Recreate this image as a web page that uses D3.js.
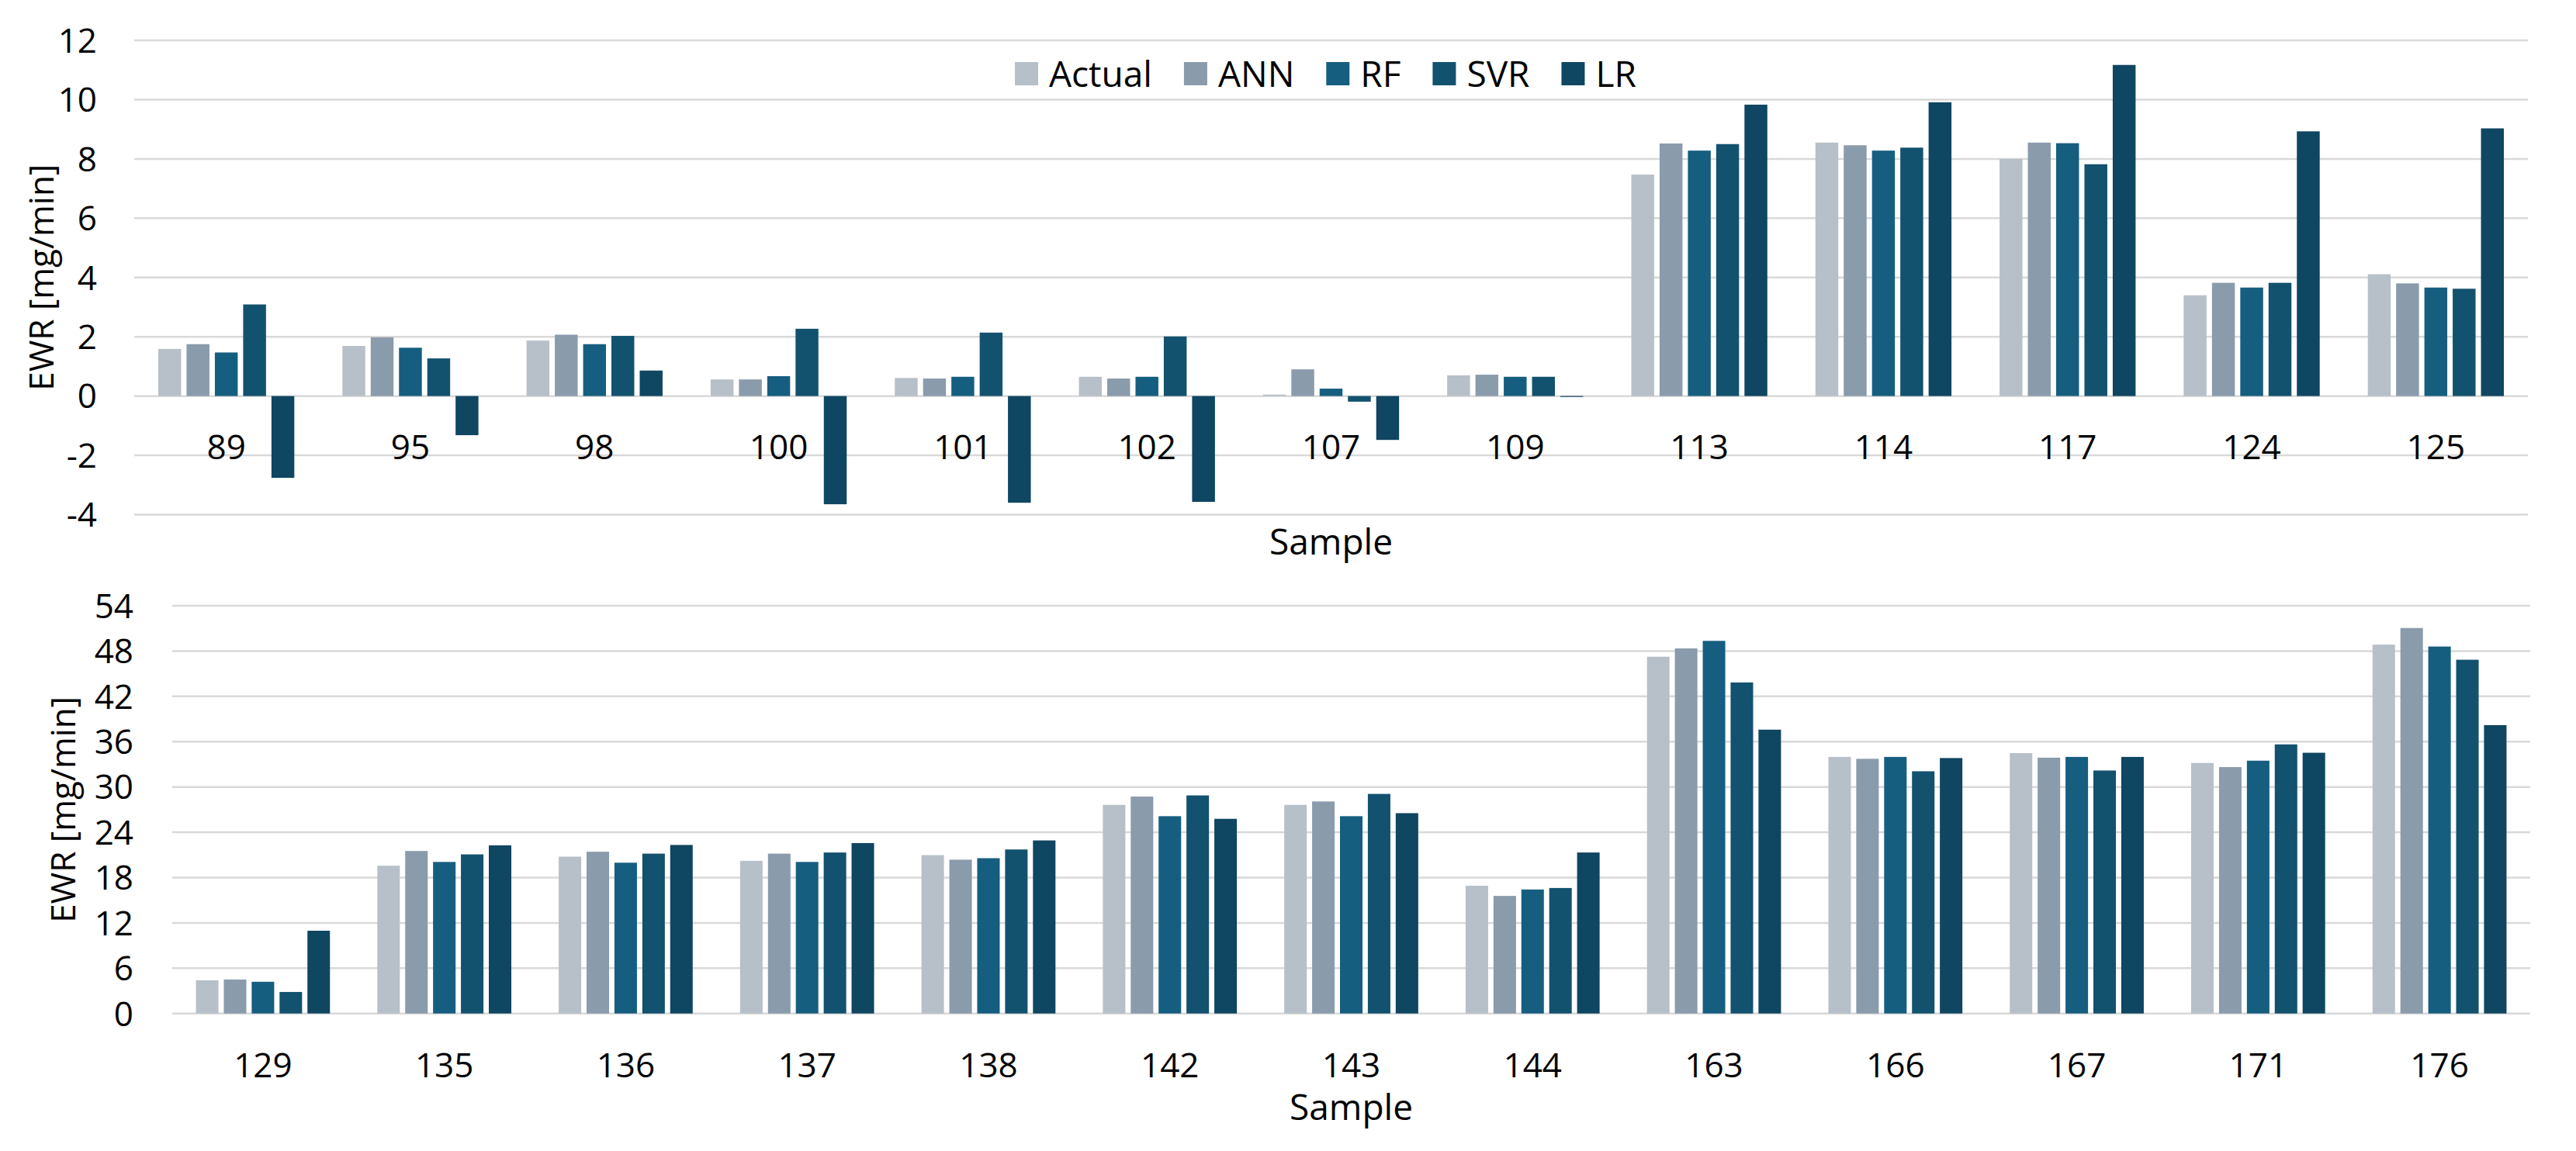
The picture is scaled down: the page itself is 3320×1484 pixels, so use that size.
<!DOCTYPE html>
<html><head><meta charset="utf-8">
<script src="https://cdn.jsdelivr.net/npm/d3@7"></script>
<style>body{margin:0;background:#fff}svg{display:block}text{font-family:"Open Sans",sans-serif;fill:#000}</style>
</head><body>
<svg id="c" width="3320" height="1484"></svg>
<script>
const series = ["Actual","ANN","RF","SVR","LR"];
const colors = ["#b7c0c8","#8a9bab","#165e80","#12526e","#0f4661"];

const topSamples = ["89","95","98","100","101","102","107","109","113","114","117","124","125"];
const topActual = [1.59,1.69,1.87,0.56,0.61,0.65,0.05,0.70,7.47,8.55,8.00,3.40,4.11];
const topANN    = [1.75,1.98,2.07,0.56,0.59,0.59,0.90,0.72,8.52,8.46,8.55,3.82,3.80];
const topRF     = [1.47,1.63,1.75,0.67,0.65,0.65,0.25,0.65,8.28,8.28,8.53,3.66,3.66];
const topSVR    = [3.09,1.27,2.03,2.27,2.14,2.01,-0.19,0.65,8.50,8.38,7.82,3.82,3.62];
const topLR     = [-2.76,-1.32,0.86,-3.65,-3.60,-3.57,-1.48,-0.03,9.83,9.91,11.17,8.93,9.03];
const topTicks  = [-4,-2,0,2,4,6,8,10,12];

const botSamples = ["129","135","136","137","138","142","143","144","163","166","167","171","176"];
const botActual = [4.40,19.57,20.77,20.22,20.97,27.63,27.63,16.92,47.25,33.98,34.48,33.18,48.85];
const botANN    = [4.50,21.52,21.42,21.17,20.37,28.73,28.08,15.57,48.35,33.73,33.88,32.63,51.05];
const botRF     = [4.20,20.07,19.97,20.07,20.57,26.13,26.13,16.42,49.35,33.98,33.98,33.48,48.60];
const botSVR    = [2.85,21.07,21.17,21.32,21.72,28.88,29.08,16.62,43.84,32.08,32.18,35.64,46.85];
const botLR     = [10.96,22.27,22.32,22.57,22.92,25.78,26.53,21.32,37.59,33.83,33.98,34.53,38.19];
const botTicks  = [0,6,12,18,24,30,36,42,48,54];

const yTitle = "EWR [mg/min]";
const xTitle = "Sample";

const svg = d3.select("#c");

function panel(cfg){
  const {samples, values, ticks, left, right, top, bottom, labelY, labelsInside, xTitleY, yTitleX, tickLabelX} = cfg;
  const g = svg.append("g");
  const y = d3.scaleLinear().domain([ticks[0], ticks[ticks.length-1]]).range([bottom, top]);
  const x0 = d3.scaleBand().domain(samples).range([left, right]).padding(0);
  const x1 = d3.scaleBand().domain(series).range([0, x0.bandwidth()]).paddingInner(0.192).paddingOuter(0.85);
  // grid
  g.append("g").selectAll("line").data(ticks).join("line")
    .attr("x1", left).attr("x2", right)
    .attr("y1", d=>y(d)).attr("y2", d=>y(d))
    .attr("stroke", "#d9d9d9").attr("stroke-width", 2.5);
  // y tick labels
  g.append("g").selectAll("text").data(ticks).join("text")
    .attr("x", tickLabelX).attr("y", d=>y(d)).attr("dy","0.36em")
    .attr("text-anchor","end").attr("font-size",44).text(d=>d);
  // bars
  const rows = samples.map((s,i)=>({s, vals: series.map((k,j)=>({k, j, v: values[j][i]}))}));
  const gg = g.append("g").selectAll("g").data(rows).join("g")
    .attr("transform", d=>`translate(${x0(d.s)},0)`);
  gg.selectAll("rect").data(d=>d.vals).join("rect")
    .attr("x", d=>x1(d.k)).attr("width", x1.bandwidth())
    .attr("y", d=>Math.min(y(d.v), y(0)))
    .attr("height", d=>Math.abs(y(d.v)-y(0)))
    .attr("fill", d=>colors[d.j]);
  // x labels
  g.append("g").selectAll("text").data(samples).join("text")
    .attr("x", d=>x0(d)+x0.bandwidth()/2).attr("y", labelY).attr("dy","0.36em")
    .attr("text-anchor","middle").attr("font-size",44).text(d=>d);
  // titles
  g.append("text").attr("x",(left+right)/2).attr("y",xTitleY).attr("dy","0.36em")
    .attr("text-anchor","middle").attr("font-size",46).text(xTitle);
  g.append("text").attr("transform",`translate(${yTitleX},${(top+bottom)/2}) rotate(-90)`)
    .attr("dy","0.36em").attr("text-anchor","middle").attr("font-size",44).text(yTitle);
}

panel({samples: topSamples, values:[topActual,topANN,topRF,topSVR,topLR], ticks: topTicks,
  left:173, right:3258, top:52, bottom:663.5, labelY:576, xTitleY:698, yTitleX:53, tickLabelX:125});
panel({samples: botSamples, values:[botActual,botANN,botRF,botSVR,botLR], ticks: botTicks,
  left:222, right:3261, top:781, bottom:1306.7, labelY:1373, xTitleY:1427, yTitleX:81, tickLabelX:172});

// legend
const lg = svg.append("g");
let lx = 1308;
series.forEach((s,i)=>{
  lg.append("rect").attr("x",lx).attr("y",80).attr("width",30).attr("height",30).attr("fill",colors[i]);
  const t = lg.append("text").attr("x",lx+44).attr("y",95).attr("dy","0.36em").attr("font-size",46).text(s);
  lx += 44 + t.node().getComputedTextLength() + 41;
});
</script>
</body></html>
